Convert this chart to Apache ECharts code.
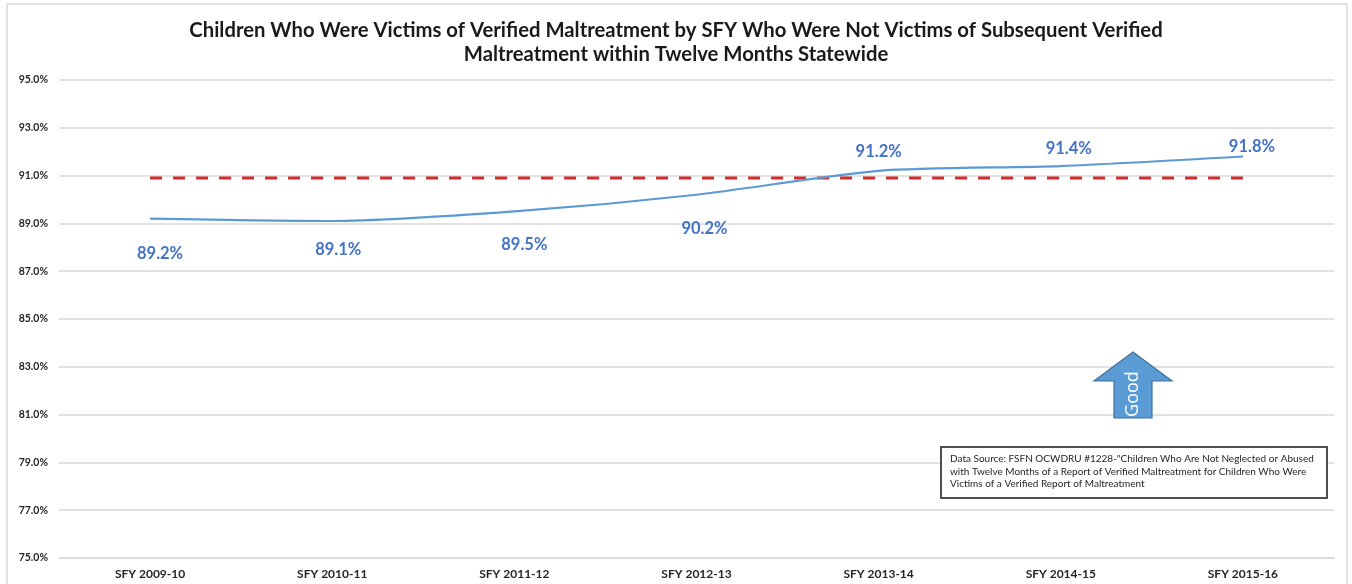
<!DOCTYPE html>
<html>
<head>
<meta charset="utf-8">
<script src="https://cdn.jsdelivr.net/npm/echarts@6/dist/echarts.min.js"></script>
<style>
html,body{margin:0;padding:0;background:#fff;}
#c{width:1352px;height:584px;}
</style>
</head>
<body>
<div id="c"></div>
<script>
const categories = ['SFY 2009-10','SFY 2010-11','SFY 2011-12','SFY 2012-13','SFY 2013-14','SFY 2014-15','SFY 2015-16'];
const rateValues = [89.2, 89.1, 89.5, 90.2, 91.2, 91.4, 91.8];
const targetValues = [90.9, 90.9, 90.9, 90.9, 90.9, 90.9, 90.9];
const labelOffsets = [[10,35],[6,29],[10,33],[8,34],[0,-19],[8,-17],[9,-10]];
const titleText = 'Children Who Were Victims of Verified Maltreatment by SFY Who Were Not Victims of Subsequent Verified\nMaltreatment within Twelve Months Statewide';
const sourceText = 'Data Source: FSFN OCWDRU #1228-"Children Who Are Not Neglected or Abused\nwith Twelve Months of a Report of Verified Maltreatment for Children Who Were\nVictims of a Verified Report of Maltreatment';

const chart = echarts.init(document.getElementById('c'));
const FONT = 'Lato, "Open Sans", sans-serif';

chart.setOption({
  animation: false,
  backgroundColor: '#fff',
  title: {
    text: titleText,
    left: 'center',
    top: 13,
    textStyle: {fontFamily: FONT, fontWeight: 'bold', fontSize: 20.3, color: '#1a1a1a', lineHeight: 24}
  },
  grid: {left: 59, right: 18, top: 80, bottom: 26},
  xAxis: {
    type: 'category',
    data: categories,
    boundaryGap: true,
    axisLine: {show: true, lineStyle: {color: '#d9d9d9', width: 1.5}},
    axisTick: {show: false},
    axisLabel: {fontFamily: FONT, fontWeight: 'bold', fontSize: 12, color: '#262626', margin: 10}
  },
  yAxis: {
    type: 'value',
    min: 75, max: 95, interval: 2,
    axisLine: {show: false},
    axisTick: {show: false},
    splitLine: {lineStyle: {color: '#d9d9d9', width: 1.5}},
    axisLabel: {fontFamily: FONT, fontWeight: 'bold', fontSize: 10.5, color: '#262626', margin: 11,
      formatter: v => v.toFixed(1) + '%'}
  },
  series: [
    {
      type: 'line',
      data: targetValues,
      symbol: 'none',
      lineStyle: {color: '#d42a2a', width: 3, type: [12, 11]},
      z: 2
    },
    {
      type: 'line',
      data: rateValues.map((v, i) => ({
        value: v,
        label: {position: [0.5 + labelOffsets[i][0], 0.5 + labelOffsets[i][1]]}
      })),
      smooth: 0.25,
      symbol: 'circle',
      symbolSize: 1,
      showSymbol: true,
      itemStyle: {color: '#5b9bd5'},
      lineStyle: {color: '#5b9bd5', width: 2.2},
      labelLayout: {hideOverlap: false},
      label: {
        show: true,
        align: 'center',
        verticalAlign: 'middle',
        formatter: p => p.value.toFixed(1) + '%',
        fontFamily: FONT, fontWeight: 'bold', fontSize: 16.5, color: '#4472c4'
      },
      z: 3
    }
  ],
  graphic: [
    {type: 'rect', shape: {x: 7, y: 4, width: 1340, height: 600}, style: {fill: 'none', stroke: '#d9d9d9', lineWidth: 1.5}, silent: true, z: 0},
    {type: 'polygon', shape: {points: [[1133,352],[1172,381],[1152,381],[1152,418],[1114,418],[1114,381],[1094,381]]},
      style: {fill: '#5b9bd5', stroke: '#41719c', lineWidth: 1.2}, z: 10},
    {type: 'text', x: 1133, y: 394, rotation: Math.PI/2,
      style: {text: 'Good', fill: '#fff', fontFamily: '"Open Sans", sans-serif', fontSize: 18, align: 'center', verticalAlign: 'middle'}, z: 11},
    {type: 'rect', shape: {x: 941, y: 447, width: 386, height: 51}, style: {fill: '#fff', stroke: '#4d4d4d', lineWidth: 2}, z: 10},
    {type: 'text', x: 950, y: 453,
      style: {text: sourceText, fill: '#262626', fontFamily: FONT, fontSize: 10, lineHeight: 12.5, align: 'left', verticalAlign: 'top'}, z: 11}
  ]
});
</script>
</body>
</html>
